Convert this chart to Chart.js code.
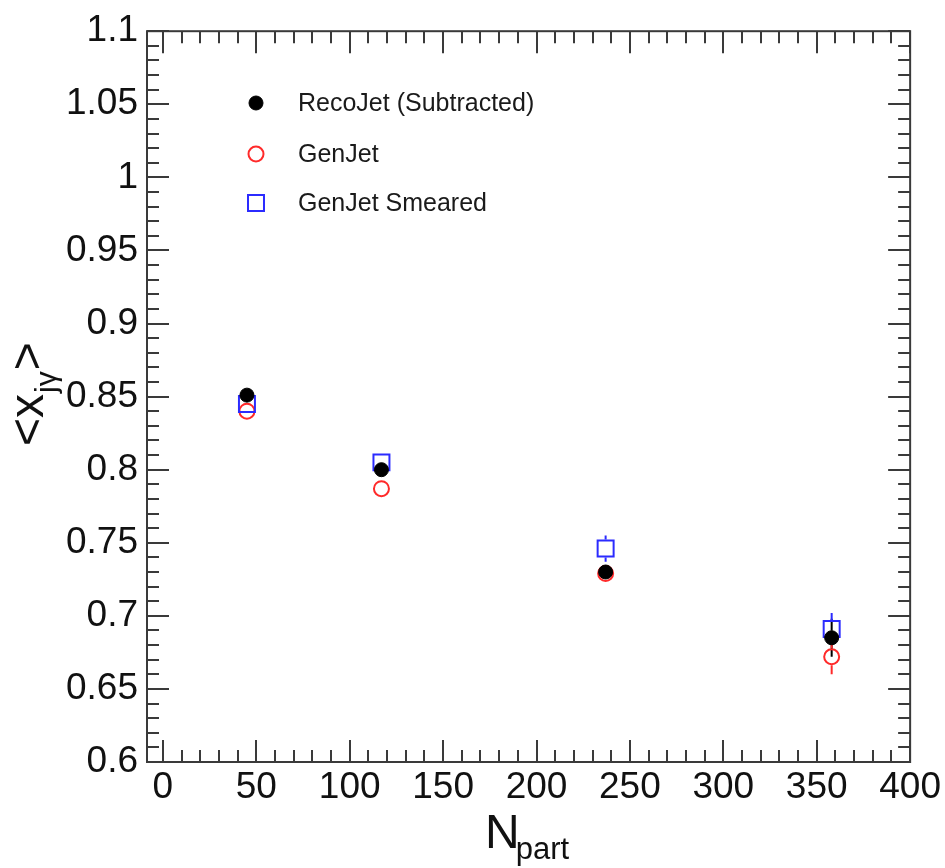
<!DOCTYPE html>
<html>
<head>
<meta charset="utf-8">
<script src="https://cdn.jsdelivr.net/npm/chart.js@4.4.1/dist/chart.umd.min.js"></script>
<style>
  html, body { margin: 0; padding: 0; background: #fff; }
  #c { display: block; }
</style>
</head>
<body>
<canvas id="c" width="945" height="868"></canvas>
<script>
// data
var nPart = [45, 117, 237, 358];
var recoJet = [0.851, 0.800, 0.730, 0.685];
var recoErr = [0.003, 0.004, 0.004, 0.013];
var genJet = [0.840, 0.787, 0.729, 0.672];
var genErr = [0.003, 0.004, 0.004, 0.012];
var genSmeared = [0.845, 0.805, 0.746, 0.691];
var smearErr = [0.004, 0.005, 0.009, 0.011];

var xTicks = [0, 50, 100, 150, 200, 250, 300, 350, 400];
var yTicks = [0.6, 0.65, 0.7, 0.75, 0.8, 0.85, 0.9, 0.95, 1, 1.05, 1.1];
var seriesNames = ['RecoJet (Subtracted)', 'GenJet', 'GenJet Smeared'];

var FONT = '"Liberation Sans", Arial, sans-serif';
var AXIS = '#3a3a3a';

function pts(ys, errs) {
    return nPart.map(function (x, i) { return { x: x, y: ys[i], e: errs[i] }; });
}

// error bars, drawn outside the marker
var errorBars = {
    id: 'errorBars',
    beforeDatasetsDraw: function (chart) {
        var ctx = chart.ctx, xs = chart.scales.x, ys = chart.scales.y;
        ctx.save();
        chart.data.datasets.forEach(function (ds) {
            ctx.strokeStyle = ds.borderColor;
            ctx.lineWidth = 2;
            ds.data.forEach(function (p) {
                var px = xs.getPixelForValue(p.x);
                var py = ys.getPixelForValue(p.y);
                var top = ys.getPixelForValue(p.y + p.e);
                var bot = ys.getPixelForValue(p.y - p.e);
                var g = ds.gap;
                ctx.beginPath();
                if (py - top > g) { ctx.moveTo(px, py - g); ctx.lineTo(px, top); }
                if (bot - py > g) { ctx.moveTo(px, py + g); ctx.lineTo(px, bot); }
                ctx.stroke();
            });
        });
        ctx.restore();
    }
};

// ROOT style frame, inner ticks, titles and legend
var frame = {
    id: 'frame',
    afterDraw: function (chart) {
        var ctx = chart.ctx, a = chart.chartArea;
        var xs = chart.scales.x, ys = chart.scales.y;
        ctx.save();
        ctx.strokeStyle = AXIS;
        ctx.lineWidth = 2;
        ctx.strokeRect(a.left, a.top, a.right - a.left, a.bottom - a.top);

        ctx.beginPath();
        var v, px, len;
        for (v = 0; v <= 400; v += 10) {
            px = Math.round(xs.getPixelForValue(v));
            len = (v % 50 === 0) ? 22 : 12;
            ctx.moveTo(px, a.bottom); ctx.lineTo(px, a.bottom - len);
            ctx.moveTo(px, a.top); ctx.lineTo(px, a.top + len);
        }
        for (var k = 60; k <= 110; k++) {
            px = Math.round(ys.getPixelForValue(k / 100));
            len = (k % 5 === 0) ? 22 : 12;
            ctx.moveTo(a.left, px); ctx.lineTo(a.left + len, px);
            ctx.moveTo(a.right, px); ctx.lineTo(a.right - len, px);
        }
        ctx.stroke();

        ctx.fillStyle = '#111';
        ctx.textBaseline = 'alphabetic';
        ctx.textAlign = 'left';
        // x title N_part
        ctx.font = '48px ' + FONT;
        ctx.fillText('N', 485, 848);
        var nw = ctx.measureText('N').width;
        ctx.font = '31px ' + FONT;
        ctx.fillText('part', 485 + nw - 4, 859);

        // y title <x_jγ>
        ctx.save();
        ctx.translate(43, 446);
        ctx.rotate(-Math.PI / 2);
        ctx.font = '48px ' + FONT;
        ctx.fillText('<x', 0, 0);
        var w = ctx.measureText('<x').width;
        ctx.font = '30px ' + FONT;
        ctx.fillText('jγ', w + 1, 13);
        w += ctx.measureText('jγ').width + 2;
        ctx.font = '48px ' + FONT;
        ctx.fillText('>', w, 0);
        ctx.restore();

        // legend
        var rows = [103, 154, 203];
        ctx.font = '25px ' + FONT;
        ctx.textBaseline = 'middle';
        chart.data.datasets.forEach(function (ds, i) {
            var r = seriesNames.indexOf(ds.label);
            ctx.strokeStyle = ds.borderColor;
            ctx.fillStyle = ds.backgroundColor;
            ctx.lineWidth = ds.borderWidth;
            Chart.helpers.drawPoint(ctx, { pointStyle: ds.pointStyle, radius: ds.pointRadius, borderWidth: ds.borderWidth, rotation: 0 }, 256, rows[r]);
            ctx.fillStyle = '#1a1a1a';
            ctx.fillText(ds.label, 298, rows[r] + 1);
        });
        ctx.restore();
    }
};

new Chart(document.getElementById('c'), {
    type: 'scatter',
    data: {
        datasets: [
            {
                label: seriesNames[0], data: pts(recoJet, recoErr),
                pointStyle: 'circle', pointRadius: 7, borderWidth: 1,
                backgroundColor: '#000', borderColor: '#000', gap: 7
            },
            {
                label: seriesNames[2], data: pts(genSmeared, smearErr),
                pointStyle: 'rect', pointRadius: 11.3, borderWidth: 2,
                backgroundColor: 'rgba(0,0,0,0)', borderColor: '#2b2bff', gap: 9
            },
            {
                label: seriesNames[1], data: pts(genJet, genErr),
                pointStyle: 'circle', pointRadius: 7.5, borderWidth: 2,
                backgroundColor: 'rgba(0,0,0,0)', borderColor: '#ff2a2a', gap: 8.5
            }
        ]
    },
    options: {
        responsive: false,
        animation: false,
        devicePixelRatio: 1,
        layout: { padding: { top: 27, right: 34, left: 0, bottom: 0 } },
        plugins: { legend: { display: false }, tooltip: { enabled: false } },
        scales: {
            x: {
                type: 'linear', min: -8.5, max: 400,
                grid: { display: false, drawTicks: false },
                border: { display: false },
                afterBuildTicks: function (s) { s.ticks = xTicks.map(function (v) { return { value: v }; }); },
                afterFit: function (s) { s.height = 106; },
                ticks: {
                    font: { family: FONT, size: 37 }, color: '#111', padding: 4,
                    maxRotation: 0, autoSkip: false,
                    callback: function (v) { return String(v); }
                }
            },
            y: {
                type: 'linear', min: 0.6, max: 1.1,
                grid: { display: false, drawTicks: false },
                border: { display: false },
                afterBuildTicks: function (s) { s.ticks = yTicks.map(function (v) { return { value: v }; }); },
                afterFit: function (s) { s.width = 147; },
                ticks: {
                    font: { family: FONT, size: 37 }, color: '#111', padding: 9,
                    autoSkip: false,
                    callback: function (v) { return String(+v.toFixed(2)); }
                }
            }
        }
    },
    plugins: [errorBars, frame]
});
</script>
</body>
</html>
